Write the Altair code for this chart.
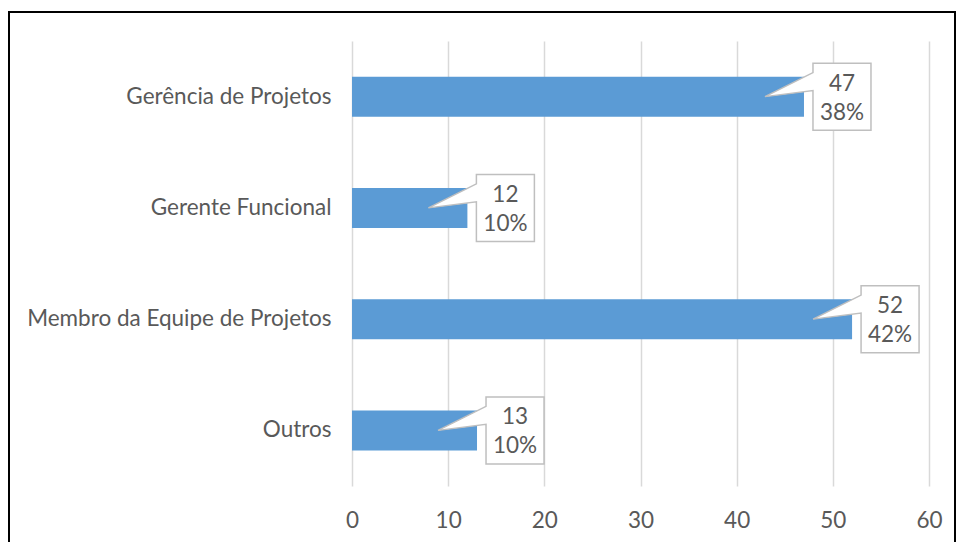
import altair as alt
import pandas as pd

categories = ["Gerência de Projetos", "Gerente Funcional", "Membro da Equipe de Projetos", "Outros"]
values = [47, 12, 52, 13]
percents = ["38%", "10%", "42%", "10%"]

df = pd.DataFrame({"cat": categories, "val": values, "pct": percents})
df["vlabel"] = df["val"].astype(str)

FONT = "Lato"
GRAY = "#595959"
FS = 22.5

yenc = alt.Y("cat:N", sort=categories, title=None,
             scale=alt.Scale(paddingInner=0.64, paddingOuter=0.32),
             axis=alt.Axis(domain=False, ticks=False, labelPadding=21, labelFont=FONT,
                           labelFontSize=FS, labelColor=GRAY, labelLimit=400))
xenc = alt.X("val:Q", title=None,
             scale=alt.Scale(domain=[0, 60], nice=False),
             axis=alt.Axis(values=[0, 10, 20, 30, 40, 50, 60], domain=False, ticks=False,
                           grid=True, gridColor="#d9d9d9", gridWidth=1.5,
                           labelFlush=False, labelOverlap=False,
                           labelPadding=34, labelFont=FONT, labelFontSize=FS,
                           labelColor=GRAY, labelBaseline="middle"))

base = alt.Chart(df)

bars = base.mark_bar(color="#5b9bd5", size=40).encode(x=xenc, y=yenc)

callout_path = "M9,-33.5 L67,-33.5 L67,33.5 L9,33.5 L9,-6 L-39,0 L9,-24 Z"
callouts = base.mark_point(shape=callout_path, size=4, filled=True, fill="white",
                           stroke="#bfbfbf", strokeWidth=1.5, opacity=1,
                           fillOpacity=1).encode(
    x="val:Q", y=alt.Y("cat:N", sort=categories))

t1 = base.mark_text(font=FONT, fontSize=FS, color=GRAY, align="center",
                    baseline="middle", xOffset=38, yOffset=-13).encode(
    x="val:Q", y=alt.Y("cat:N", sort=categories), text="vlabel:N")
t2 = base.mark_text(font=FONT, fontSize=FS, color=GRAY, align="center",
                    baseline="middle", xOffset=38, yOffset=16).encode(
    x="val:Q", y=alt.Y("cat:N", sort=categories), text="pct:N")

border = alt.Chart(pd.DataFrame({"a": [0]})).mark_rect(
    fill=None, stroke="black", strokeWidth=2).encode(
    x=alt.value(-343), x2=alt.value(603), y=alt.value(-29), y2=alt.value(700))

chart = alt.layer(bars, callouts, t1, t2, border).properties(
    width=577, height=445,
    autosize=alt.AutoSizeParams(type="none"),
    padding={"left": 352, "top": 41, "right": 27, "bottom": 56},
    background="white",
).configure_view(stroke=None)

chart.save("out.html", embed_options={"renderer": "svg", "actions": False})
